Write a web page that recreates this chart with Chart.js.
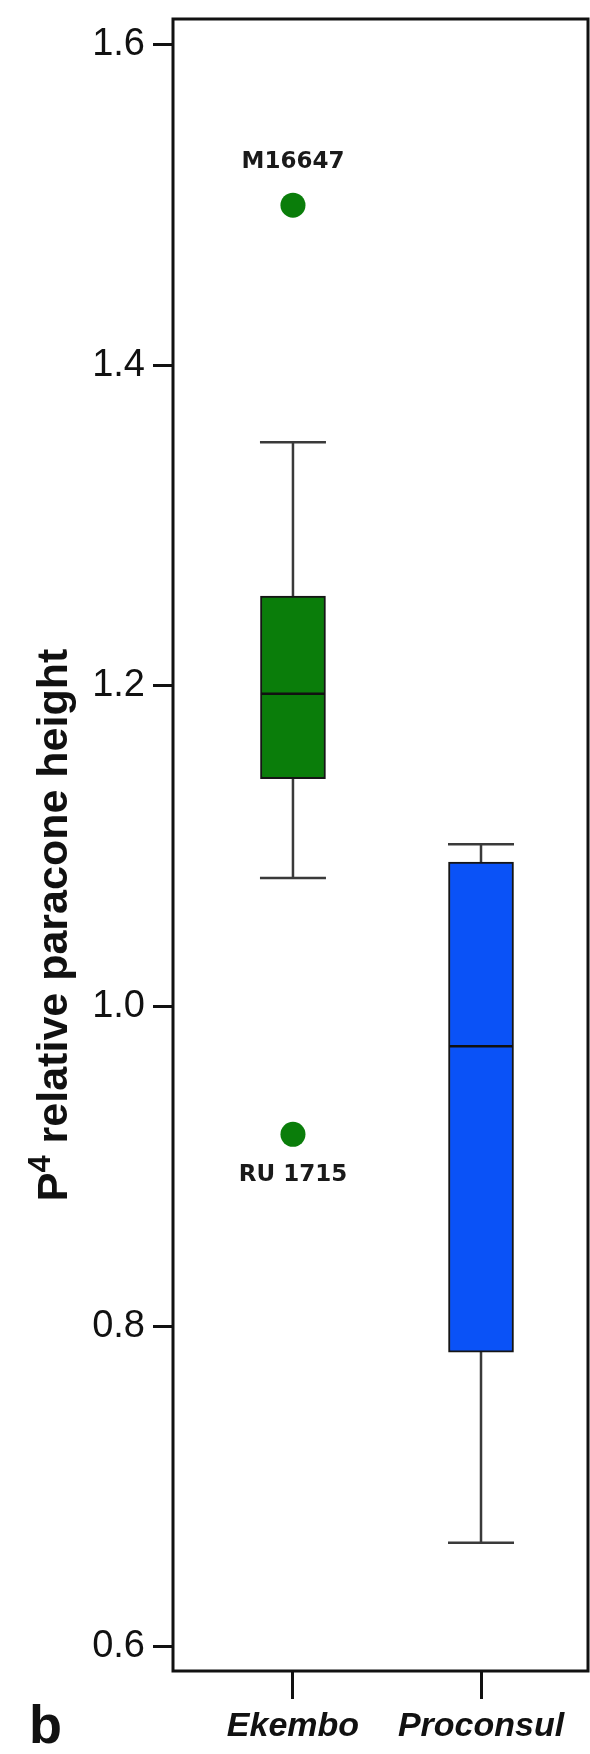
<!DOCTYPE html>
<html>
<head>
<meta charset="utf-8">
<script src="https://cdn.jsdelivr.net/npm/chart.js@4/dist/chart.umd.min.js"></script>
<style>
  html, body { margin: 0; padding: 0; background: #ffffff; }
  #wrap { width: 590px; height: 1754px; position: relative; }
</style>
</head>
<body>
<div id="wrap"><canvas id="c" width="590" height="1754"></canvas></div>
<script>
// Box-plot summary per group
const groups = ['Ekembo', 'Proconsul'];
const whiskerLow = [1.080, 0.665];
const quartile1 = [1.142, 0.784];
const medians = [1.195, 0.975];
const quartile3 = [1.256, 1.090];
const whiskerHigh = [1.352, 1.101];

// Labelled outliers (group index, value, specimen)
const outlierGroup = [0, 0];
const outlierValues = [1.50, 0.92];
const outlierNames = ['M16647', 'RU 1715'];

// Axis ticks
const yTicks = [0.6, 0.8, 1.0, 1.2, 1.4, 1.6];

const boxColors = ['#0a7d0a', '#0a52f7'];
const dotColor = '#0a7d0a';

// whiskers sit behind the boxes, medians and labels on top
const boxParts = {
  id: 'boxParts',
  beforeDatasetsDraw(chart) {
    const { ctx, scales: { x, y } } = chart;
    ctx.save();
    ctx.strokeStyle = '#3a3a3a';
    ctx.lineWidth = 2.5;
    groups.forEach((g, i) => {
      const cx = x.getPixelForValue(i + 1);
      const hi = y.getPixelForValue(whiskerHigh[i]);
      const lo = y.getPixelForValue(whiskerLow[i]);
      ctx.beginPath();
      ctx.moveTo(cx, hi); ctx.lineTo(cx, lo);
      ctx.moveTo(cx - 33, hi); ctx.lineTo(cx + 33, hi);
      ctx.moveTo(cx - 33, lo); ctx.lineTo(cx + 33, lo);
      ctx.stroke();
    });
    ctx.restore();
  },
  afterDatasetsDraw(chart) {
    const { ctx, scales: { x, y } } = chart;
    ctx.save();
    ctx.strokeStyle = '#111';
    ctx.lineWidth = 2.5;
    groups.forEach((g, i) => {
      const cx = x.getPixelForValue(i + 1);
      const my = y.getPixelForValue(medians[i]);
      ctx.beginPath();
      ctx.moveTo(cx - 32, my); ctx.lineTo(cx + 32, my);
      ctx.stroke();
    });
    ctx.fillStyle = '#1a1a1a';
    ctx.font = 'bold 23px "DejaVu Sans"';
    ctx.textAlign = 'center';
    ctx.textBaseline = 'middle';
    outlierValues.forEach((v, k) => {
      const gi = outlierGroup[k];
      const cx = x.getPixelForValue(gi + 1);
      const py = y.getPixelForValue(v);
      const dy = v > whiskerHigh[gi] ? -43 : 41;
      ctx.fillText(outlierNames[k], cx, py + dy);
    });
    ctx.restore();
  },
  afterDraw(chart) {
    const { ctx, chartArea: a } = chart;
    ctx.save();
    // frame
    ctx.strokeStyle = '#111';
    ctx.lineWidth = 3;
    ctx.strokeRect(a.left, a.top, a.right - a.left, a.bottom - a.top);

    // y-axis title with superscript
    ctx.fillStyle = '#111';
    ctx.translate(67, 925);
    ctx.rotate(-Math.PI / 2);
    ctx.textBaseline = 'alphabetic';
    ctx.textAlign = 'left';
    const big = 'bold 43px "Liberation Sans"';
    const small = 'bold 31px "Liberation Sans"';
    const rest = ' relative paracone height';
    ctx.font = big; const wP = ctx.measureText('P').width; const wR = ctx.measureText(rest).width;
    ctx.font = small; const w4 = ctx.measureText('4').width;
    let sx = -(wP + w4 + wR) / 2;
    ctx.font = big; ctx.fillText('P', sx, 0); sx += wP;
    ctx.font = small; ctx.fillText('4', sx, -17); sx += w4;
    ctx.font = big; ctx.fillText(rest, sx, 0);
    ctx.restore();

    // panel letter
    ctx.save();
    ctx.fillStyle = '#111';
    ctx.font = 'bold 54px "Liberation Sans"';
    ctx.textBaseline = 'alphabetic';
    ctx.fillText('b', 29, 1743);
    ctx.restore();
  }
};

new Chart(document.getElementById('c'), {
  type: 'bar',
  data: {
    datasets: [
      {
        type: 'bar',
        data: groups.map((g, i) => ({ x: i + 1, y: [quartile1[i], quartile3[i]] })),
        backgroundColor: boxColors,
        borderColor: '#151515',
        borderWidth: 2,
        borderSkipped: false,
        barThickness: 65
      },
      {
        type: 'scatter',
        data: outlierValues.map((v, k) => ({ x: outlierGroup[k] + 1, y: v })),
        pointRadius: 12.5,
        pointBackgroundColor: dotColor,
        pointBorderWidth: 0
      }
    ]
  },
  options: {
    responsive: false,
    animation: false,
    devicePixelRatio: 1,
    layout: { autoPadding: false, padding: { top: 19, right: 2, left: 0, bottom: 0 } },
    plugins: { legend: { display: false }, tooltip: { enabled: false } },
    scales: {
      x: {
        type: 'linear',
        offset: false,
        min: 0.362,
        max: 2.569,
        afterBuildTicks: s => { s.ticks = groups.map((g, i) => ({ value: i + 1 })); },
        afterFit: s => { s.height = 83; s.paddingLeft = 0; s.paddingRight = 0; },
        ticks: {
          callback: v => groups[Math.round(v) - 1],
          font: { family: 'Liberation Sans', size: 34, weight: 'bold', style: 'italic' },
          color: '#111',
          padding: 7,
          autoSkip: false,
          maxRotation: 0
        },
        grid: { offset: false, drawOnChartArea: false, drawTicks: true, tickLength: 28, tickWidth: 3, color: '#111' },
        border: { display: false }
      },
      y: {
        min: 0.585,
        max: 1.6162,
        afterBuildTicks: s => { s.ticks = yTicks.map(v => ({ value: v })); },
        afterFit: s => { s.width = 173; s.paddingTop = 0; s.paddingBottom = 0; },
        ticks: {
          callback: v => v.toFixed(1),
          font: { family: 'Liberation Sans', size: 38 },
          color: '#111',
          padding: 8
        },
        grid: { drawOnChartArea: false, drawTicks: true, tickLength: 20, tickWidth: 3, color: '#111' },
        border: { display: false }
      }
    }
  },
  plugins: [boxParts]
});
</script>
</body>
</html>
